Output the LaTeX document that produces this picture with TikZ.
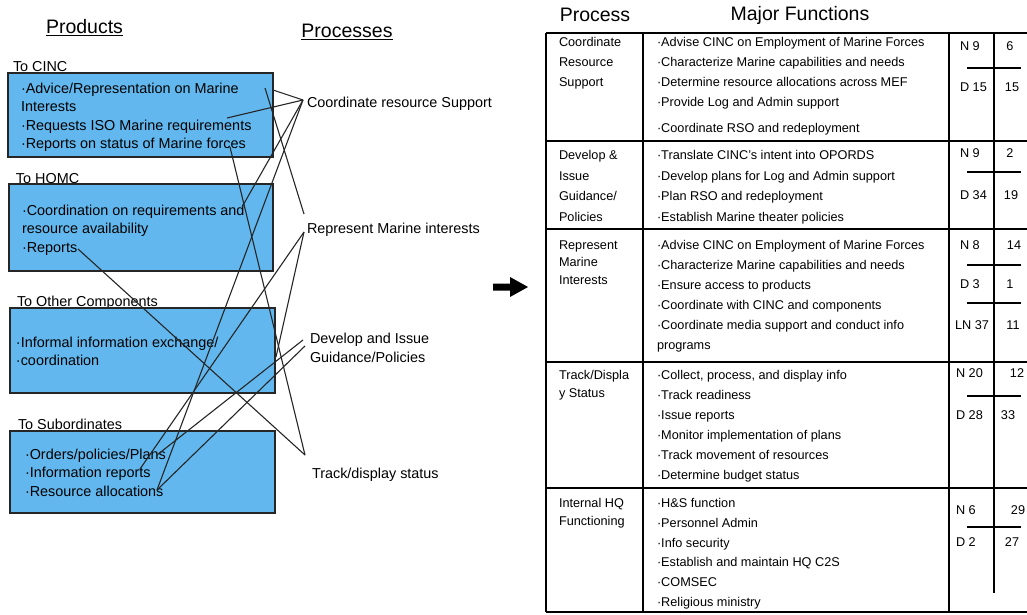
\documentclass[tikz,border=0pt]{standalone}
\usepackage{fontspec}
\setmainfont{Liberation Sans}

\definecolor{prodblue}{RGB}{98,184,238}

\begin{document}
\begin{tikzpicture}[x=1pt, y=-1pt,
			every node/.style={inner sep=0pt, outer sep=0pt},
			prodbox/.style={draw=black!85, line width=1.3pt, fill=prodblue, anchor=north west},
			prodtext/.style={anchor=north west, align=left, font=\fontsize{14.4}{18.5}\selectfont},
			grouptitle/.style={anchor=west, font=\fontsize{14.4}{18.5}\selectfont},
			procname/.style={anchor=west, align=left, font=\fontsize{14.4}{19}\selectfont},
			heading/.style={font=\fontsize{19.5}{22}\selectfont},
			link/.style={draw=black!85, line width=1.1pt},
			cell/.style={anchor=north west, align=left, font=\fontsize{12.7}{20}\selectfont},
			tightcell/.style={cell, font=\fontsize{12.7}{17.5}\selectfont},
			count/.style={font=\fontsize{12.7}{15}\selectfont},
			tabline/.style={line width=1.5pt}
			]
			\useasboundingbox (0,0) rectangle (1027,615);
			
			% Left side: products and processes
			\node[heading] (products) at (84.5,28) {\underline{Products}};
			\node[heading] (processes) at (347,32) {\underline{Processes}};
			
			\node[grouptitle] (tocinc) at (13,67) {To CINC};
			\node[prodbox, minimum width=265pt, minimum height=84pt] (cinc) at (8,73) {};
			\node[prodtext] (cinctxt) at (21,82.7) {·Advice/Representation on Marine\\Interests\\·Requests ISO Marine requirements\\·Reports on status of Marine forces};
			
			\node[grouptitle] (tohqmc) at (16,180) {To HQMC};
			\node[prodbox, minimum width=264pt, minimum height=87pt] (hqmc) at (9,184) {};
			\node[prodtext] (hqmctxt) at (22,204.7) {·Coordination on requirements and\\resource availability\\·Reports};
			
			\node[grouptitle] (toother) at (17,303) {To Other Components};
			\node[prodbox, minimum width=265pt, minimum height=85pt] (other) at (10,308) {};
			\node[prodtext] (othertxt) at (16,336.7) {·Informal information exchange/\\·coordination};
			
			\node[grouptitle] (tosub) at (18,424) {To Subordinates};
			\node[prodbox, minimum width=265pt, minimum height=82pt] (sub) at (10,431) {};
			\node[prodtext] (subtxt) at (25,448.7) {·Orders/policies/Plans\\·Information reports\\·Resource allocations};
			
			\node[procname] (coord) at (307,104) {Coordinate resource Support};
			\node[procname] (repr) at (307,230) {Represent Marine interests};
			\node[procname, anchor=north west] (devel) at (310,332.7) {Develop and Issue\\Guidance/Policies};
			\node[procname] (track) at (312,475) {Track/display status};
			
			% Line ends
			\coordinate (coord-in) at (303,100);
			\coordinate (repr-in) at (304,232);
			\coordinate (repr-top) at (304,214);
			\coordinate (devel-in1) at (303,340);
			\coordinate (devel-in2) at (305,346);
			\coordinate (track-in) at (305,455);
			\coordinate (cinc-edge) at (273,90);
			\coordinate (cinc-advice) at (265,88);
			\coordinate (cinc-req) at (227,118);
			\coordinate (cinc-forces) at (230,147);
			\coordinate (hqmc-and) at (242,207);
			\coordinate (hqmc-rep) at (78,249);
			\coordinate (other-edge) at (276,357);
			\coordinate (sub-plans) at (157,455);
			\coordinate (sub-info) at (140,469);
			\coordinate (sub-alloc) at (157,490);
			
			\draw[link] (coord-in) -- (cinc-edge);
			\draw[link] (coord-in) -- (cinc-req);
			\draw[link] (coord-in) -- (hqmc-and);
			\draw[link] (coord-in) -- (sub-alloc);
			\draw[link] (cinc-advice) -- (repr-top);
			\draw[link] (repr-in) -- (sub-info);
			\draw[link] (repr-in) -- (other-edge);
			\draw[link] (devel-in1) -- (sub-plans);
			\draw[link] (devel-in2) -- (sub-alloc);
			\draw[link] (track-in) -- (cinc-forces);
			\draw[link] (track-in) -- (hqmc-rep);
			
			% Big arrow
			\fill (493,283.5) -- (510,283.5) -- (510,277) -- (528,287) -- (510,297) -- (510,290.5) -- (493,290.5) -- cycle;
			
			% Right side: table
			\node[heading] (hprocess) at (595,15) {Process};
			\node[heading] (hfunctions) at (800,15) {Major Functions};
			
			\draw[tabline, line width=2.5pt] (546,33) -- (546,612);
			\foreach \x in {643,949}
				\draw[tabline] (\x,33) -- (\x,612);
			\foreach \y in {33,141,229,362,488,612}
				\draw[tabline] (546,\y) -- (1027,\y);
			\draw[line width=1.2pt] (994,33) -- (994,593);
			\foreach \y in {68,172,265,303,396,527}
				\draw[line width=1.2pt] (967,\y) -- (1021,\y);
			
			\node[cell] (p1) at (559,37.3) {Coordinate\\Resource\\Support};
			\node[cell] (f1) at (657,37.3) {·Advise CINC on Employment of Marine Forces\\·Characterize Marine capabilities and needs\\·Determine resource allocations across MEF\\·Provide Log and Admin support\\[6pt]·Coordinate RSO and redeployment};
			
			\node[cell, font=\fontsize{12.7}{20.7}\selectfont] (p2) at (559,150.3) {Develop \&\\Issue\\Guidance/\\Policies};
			\node[cell, font=\fontsize{12.7}{20.7}\selectfont] (f2) at (657,150.3) {·Translate CINC's intent into OPORDS\\·Develop plans for Log and Admin support\\·Plan RSO and redeployment\\·Establish Marine theater policies};
			
			\node[tightcell] (p3) at (559,240.3) {Represent\\Marine\\Interests};
			\node[cell] (f3) at (657,240.3) {·Advise CINC on Employment of Marine Forces\\·Characterize Marine capabilities and needs\\·Ensure access to products\\·Coordinate with CINC and components\\·Coordinate media support and conduct info\\programs};
			
			\node[tightcell] (p4) at (559,370.3) {Track/Displa\\y Status};
			\node[cell] (f4) at (657,370.3) {·Collect, process, and display info\\·Track readiness\\·Issue reports\\·Monitor implementation of plans\\·Track movement of resources\\·Determine budget status};
			
			\node[tightcell] (p5) at (559,498.3) {Internal HQ\\Functioning};
			\node[cell, font=\fontsize{12.7}{19.8}\selectfont] (f5) at (657,498.3) {·H\&S function\\·Personnel Admin\\·Info security\\·Establish and maintain HQ C2S\\·COMSEC\\·Religious ministry};
			
			% Counts
			\node[count, anchor=west] (n1) at (960,46) {N 9};
			\node[count] (n1v) at (1010,46) {6};
			\node[count, anchor=west] (d1) at (960,87) {D 15};
			\node[count] (d1v) at (1012,87) {15};
			\node[count, anchor=west] (n2) at (960,153) {N 9};
			\node[count] (n2v) at (1010,153) {2};
			\node[count, anchor=west] (d2) at (960,195) {D 34};
			\node[count] (d2v) at (1011,195) {19};
			\node[count, anchor=west] (n3) at (960,245) {N 8};
			\node[count] (n3v) at (1014,245) {14};
			\node[count, anchor=west] (d3) at (960,284) {D 3};
			\node[count] (d3v) at (1010,284) {1};
			\node[count, anchor=west] (ln3) at (955,325) {LN 37};
			\node[count] (ln3v) at (1013,325) {11};
			\node[count, anchor=west] (n4) at (956,373) {N 20};
			\node[count] (n4v) at (1017,373) {12};
			\node[count, anchor=west] (d4) at (956,415) {D 28};
			\node[count] (d4v) at (1008,415) {33};
			\node[count, anchor=west] (n5) at (956,510) {N 6};
			\node[count] (n5v) at (1018,510) {29};
			\node[count, anchor=west] (d5) at (956,542) {D 2};
			\node[count] (d5v) at (1012,542) {27};
			
		\end{tikzpicture}
\end{document}
